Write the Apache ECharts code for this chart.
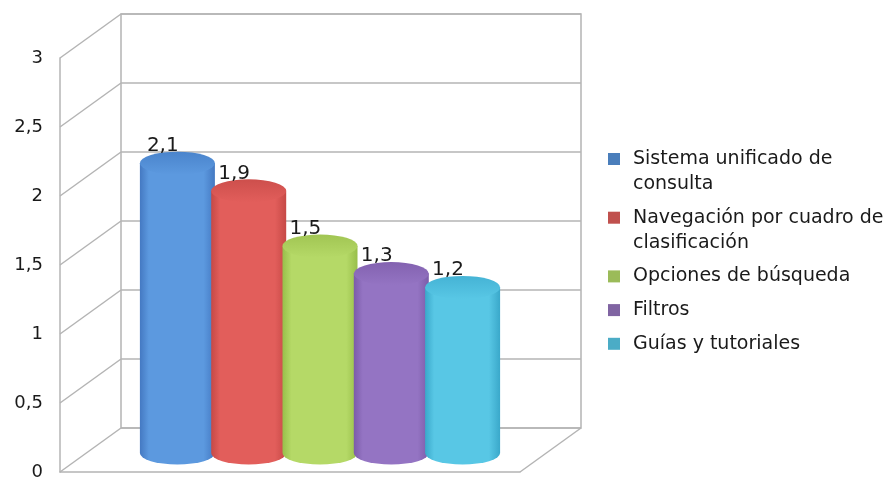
<!DOCTYPE html>
<html>
<head>
<meta charset="utf-8">
<script src="https://cdn.jsdelivr.net/npm/echarts@6/dist/echarts.min.js"></script>
<style>
  html, body { margin: 0; padding: 0; background: #ffffff; }
  #chart { width: 893px; height: 482px; }
</style>
</head>
<body>
<div id="chart"></div>
<script>
// Chart data
const categories = [
  'Sistema unificado de\nconsulta',
  'Navegación por cuadro de\nclasificación',
  'Opciones de búsqueda',
  'Filtros',
  'Guías y tutoriales'
];
const values = [2.1, 1.9, 1.5, 1.3, 1.2];
const yTicks = [0, 0.5, 1, 1.5, 2, 2.5, 3];

// Colours: legend swatches and cylinder shading (edge / highlight / cap)
const legendColors = ['#4a7ebb', '#c0504d', '#9bbb59', '#8064a2', '#4bacc6'];
const shades = [
  { edge: '#4479c2', light: '#5c99df', cap: '#4a84cc' },
  { edge: '#c64946', light: '#e25e5b', cap: '#cd4f4c' },
  { edge: '#98bf4a', light: '#b5d967', cap: '#a1c553' },
  { edge: '#7b5ca9', light: '#9474c3', cap: '#8362b0' },
  { edge: '#3aa8ca', light: '#58c7e5', cap: '#45b3d5' }
];

// Box geometry: back wall rectangle and the depth offset toward the viewer
const BACK = { left: 121, top: 14, width: 460, height: 414 };
const DEPTH = [-61, 44];
const MID = [-34, 25];          // cylinders stand at mid depth
const SPACING = 71.3;           // distance between cylinder axes
const SHIFT = 3;
const RX = 37.5, RY = 11.5;
const GRID_COLOR = '#b4b4b4';
const TEXT_COLOR = '#1a1a1a';
const FONT = '"DejaVu Sans", sans-serif';
const LINE_H = 25;
const legendCenters = [159, 217.7, 276.4, 310.1, 343.8];

const fmt = v => String(v).replace('.', ',');

function cylinderRenderer(i) {
  return function (params, api) {
    const topPt = api.coord([0, api.value(1)]);
    const basePt = api.coord([0, 0]);
    const cx = topPt[0] + (i - (categories.length - 1) / 2) * SPACING + SHIFT + MID[0];
    const yT = topPt[1] + MID[1];
    const yB = basePt[1] + MID[1];
    const xl = cx - RX, xr = cx + RX;
    const s = shades[i];
    const body = {
      type: 'linear', x: 0, y: 0, x2: 1, y2: 0,
      colorStops: [
        { offset: 0, color: s.edge },
        { offset: 0.12, color: s.light },
        { offset: 0.45, color: s.light },
        { offset: 0.85, color: s.light },
        { offset: 1, color: s.edge }
      ]
    };
    const cap = {
      type: 'linear', x: 0, y: 0, x2: 0, y2: 1,
      colorStops: [
        { offset: 0, color: s.cap },
        { offset: 1, color: s.light }
      ]
    };
    return {
      type: 'group',
      children: [
        {
          type: 'path',
          shape: { pathData: `M${xl} ${yT}L${xl} ${yB}A${RX} ${RY} 0 0 0 ${xr} ${yB}L${xr} ${yT}Z` },
          style: { fill: body }
        },
        {
          type: 'path',
          shape: { pathData: `M${xl} ${yT}A${RX} ${RY} 0 1 0 ${xr} ${yT}A${RX} ${RY} 0 1 0 ${xl} ${yT}Z` },
          style: { fill: cap }
        },
        {
          type: 'text',
          style: {
            text: fmt(api.value(1)),
            x: xl + 7, y: yT - RY + 4,
            align: 'left', verticalAlign: 'bottom',
            font: '20px ' + FONT, fill: TEXT_COLOR
          }
        }
      ]
    };
  };
}

// Side-wall lines and the right floor edge, one per tick value
function frameRenderer(params, api) {
  const cs = params.coordSys;
  const v = api.value(1);
  const y = api.coord([0, v])[1];
  const lineStyle = { stroke: GRID_COLOR, lineWidth: 1.5 };
  const children = [{
    type: 'line',
    shape: { x1: cs.x, y1: y, x2: cs.x + DEPTH[0], y2: y + DEPTH[1] },
    style: lineStyle
  }];
  if (v === yTicks[0]) {
    children.push({
      type: 'line',
      shape: { x1: cs.x + cs.width, y1: y, x2: cs.x + cs.width + DEPTH[0], y2: y + DEPTH[1] },
      style: lineStyle
    });
  }
  return { type: 'group', children };
}

const series = categories.map((name, i) => ({
  type: 'custom',
  name,
  xAxisIndex: 0,
  yAxisIndex: 0,
  clip: false,
  itemStyle: { color: legendColors[i] },
  data: [[0, values[i]]],
  renderItem: cylinderRenderer(i),
  z: 3
}));
series.unshift({
  type: 'custom',
  name: 'frame',
  xAxisIndex: 0,
  yAxisIndex: 0,
  clip: false,
  silent: true,
  data: yTicks.map(v => [0, v]),
  renderItem: frameRenderer,
  z: 1
});

const legends = categories.map((name, i) => {
  const nLines = name.split('\n').length;
  const h = 12 + LINE_H * (nLines - 1);
  return {
    orient: 'vertical',
    left: 608,
    top: legendCenters[i] - LINE_H / 2,
    padding: 0,
    itemWidth: 20,
    itemHeight: h,
    selectedMode: false,
    data: [{
      name,
      icon: `path://M0,0h12v12h-12zM20,${h}h0`,
      itemStyle: { color: legendColors[i] }
    }],
    textStyle: { fontFamily: FONT, fontSize: 19, color: TEXT_COLOR, lineHeight: LINE_H }
  };
});

const chart = echarts.init(document.getElementById('chart'), null, { renderer: 'canvas' });
chart.setOption({
  animation: false,
  color: legendColors,
  legend: legends,
  grid: [
    {
      left: BACK.left, top: BACK.top, width: BACK.width, height: BACK.height,
      show: true, borderColor: GRID_COLOR, borderWidth: 1.5,
      outerBoundsMode: 'none'
    },
    {
      left: BACK.left + DEPTH[0], top: BACK.top + DEPTH[1], width: BACK.width, height: BACK.height,
      show: false,
      outerBoundsMode: 'none'
    }
  ],
  xAxis: [
    { gridIndex: 0, type: 'category', data: [''], show: false },
    {
      gridIndex: 1, type: 'category', data: [''],
      axisLine: { show: true, lineStyle: { color: GRID_COLOR, width: 1.5 } },
      axisTick: { show: false }, axisLabel: { show: false }
    }
  ],
  yAxis: [
    {
      gridIndex: 0, type: 'value', min: 0, max: 3, interval: 0.5,
      axisLine: { show: false }, axisTick: { show: false }, axisLabel: { show: false },
      splitLine: { show: true, lineStyle: { color: GRID_COLOR, width: 1.5 } }
    },
    {
      gridIndex: 1, type: 'value', min: 0, max: 3, interval: 0.5,
      axisLine: { show: true, lineStyle: { color: GRID_COLOR, width: 1.5 } },
      axisTick: { show: false },
      splitLine: { show: false },
      axisLabel: {
        margin: 17, fontFamily: FONT, fontSize: 18, color: TEXT_COLOR,
        formatter: v => fmt(v)
      }
    }
  ],
  series
});
</script>
</body>
</html>
